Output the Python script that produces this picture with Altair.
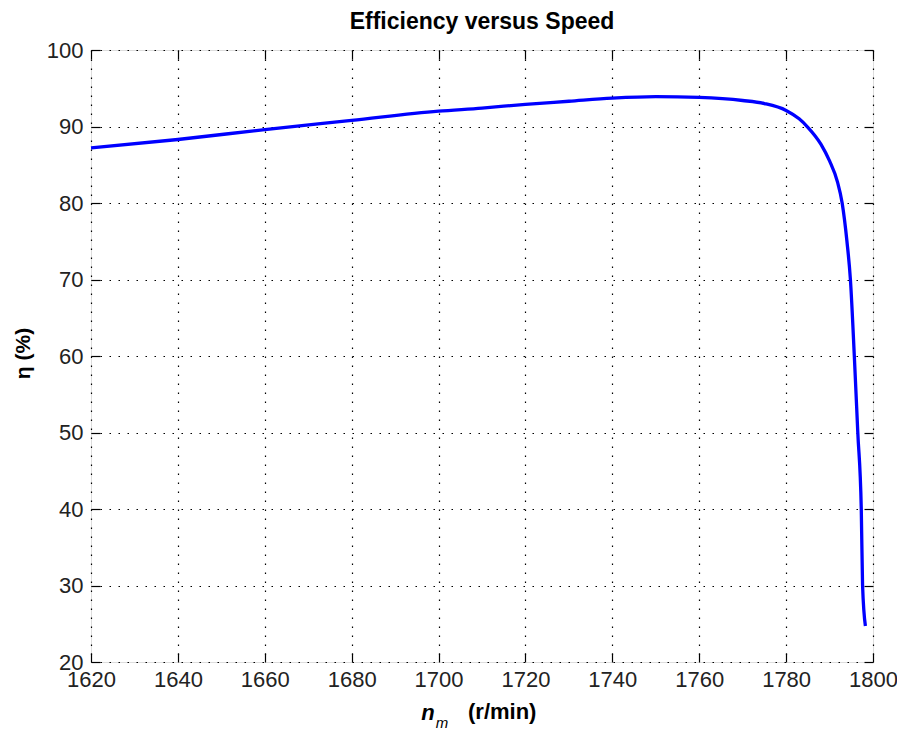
import altair as alt
import pandas as pd

# Data
speed = [1620, 1640, 1660, 1680, 1700, 1710, 1720, 1730, 1740, 1750, 1760, 1770,
         1775, 1780, 1783, 1785, 1788, 1790, 1791.8, 1792.9, 1794.0, 1794.8,
         1795.7, 1796.5, 1797.3, 1797.6, 1798.25]
efficiency = [87.2, 88.3, 89.6, 90.8, 92.0, 92.4, 92.9, 93.3, 93.7, 93.9, 93.8, 93.4,
              93.0, 92.1, 91.0, 89.9, 87.7, 85.5, 82.8, 80.0, 75.0, 70.0,
              60.0, 50.0, 40.0, 30.0, 24.7]
x_ticks = [1620, 1640, 1660, 1680, 1700, 1720, 1740, 1760, 1780, 1800]
y_ticks = [20, 30, 40, 50, 60, 70, 80, 90, 100]

df = pd.DataFrame({"speed": speed, "eff": efficiency})

FONT = "Liberation Sans, Arial, sans-serif"
W, H = 782, 612

xs = alt.Scale(domain=[1620, 1800], nice=False, zero=False)
ys = alt.Scale(domain=[20, 100], nice=False, zero=False)

GRID = dict(grid=True, gridColor="#000", gridOpacity=1, gridDash=[1.5, 7.5], gridWidth=1.2)

main = alt.Chart(df).mark_line(color="#0000FF", strokeWidth=3.3, interpolate="monotone").encode(
    x=alt.X("speed:Q", scale=xs,
            axis=alt.Axis(orient="bottom", values=x_ticks, title=None, tickSize=0, domain=False,
                          labelFont=FONT, labelFontSize=22, labelColor="#222",
                          labelPadding=7, format="d", labelFlush=False, labelOverlap=False,
                          **GRID)),
    y=alt.Y("eff:Q", scale=ys,
            axis=alt.Axis(orient="left", values=y_ticks, title="η   (%)", tickSize=0, domain=False,
                          labelFont=FONT, labelFontSize=22, labelColor="#222",
                          labelPadding=8, labelFlush=False, labelOverlap=False,
                          titleFont=FONT, titleFontSize=21, titleFontWeight="bold",
                          titleColor="#000", titleX=-68, titleY=H / 2 - 3, titleAngle=-90,
                          titleAlign="center", titleBaseline="middle", **GRID)),
)


def tick_layer(xorient=None, yorient=None):
    common = dict(labels=False, domain=False, grid=False, tickSize=9, tickColor="#000",
                  tickWidth=1.2, offset=-9, title=None)
    xa = alt.Axis(orient=xorient, values=x_ticks, **common) if xorient else None
    ya = alt.Axis(orient=yorient, values=y_ticks, **common) if yorient else None
    return alt.Chart(df).mark_line(opacity=0).encode(
        x=alt.X("speed:Q", scale=xs, axis=xa),
        y=alt.Y("eff:Q", scale=ys, axis=ya),
    )


label_n = alt.Chart(pd.DataFrame({"t": ["n"]})).mark_text(
    font=FONT, fontSize=22, fontWeight="bold", fontStyle="italic", align="center",
    baseline="alphabetic", color="#000"
).encode(x=alt.value(337), y=alt.value(670), text="t:N")
label_m = alt.Chart(pd.DataFrame({"t": ["m"]})).mark_text(
    font=FONT, fontSize=15, fontStyle="italic", align="center",
    baseline="alphabetic", color="#000"
).encode(x=alt.value(351), y=alt.value(678), text="t:N")
label_unit = alt.Chart(pd.DataFrame({"t": ["(r/min)"]})).mark_text(
    font=FONT, fontSize=22, fontWeight="bold", align="left",
    baseline="alphabetic", color="#000"
).encode(x=alt.value(377), y=alt.value(669), text="t:N")

chart = alt.layer(
    main,
    tick_layer(xorient="bottom"),
    tick_layer(xorient="top"),
    tick_layer(yorient="left"),
    tick_layer(yorient="right"),
    label_n, label_m, label_unit,
).resolve_axis(x="independent", y="independent").properties(
    width=W, height=H,
    title=alt.TitleParams("Efficiency versus Speed", font=FONT, fontSize=23, fontWeight="bold",
                          color="#000", anchor="middle", frame="group", offset=5),
    autosize=alt.AutoSizeParams(type="none"),
    padding={"left": 83, "top": 42, "right": 24, "bottom": 70},
).configure_view(stroke="#000", strokeWidth=1.3).configure(background="white")

chart.save("out.html", embed_options={"renderer": "svg", "actions": False})
